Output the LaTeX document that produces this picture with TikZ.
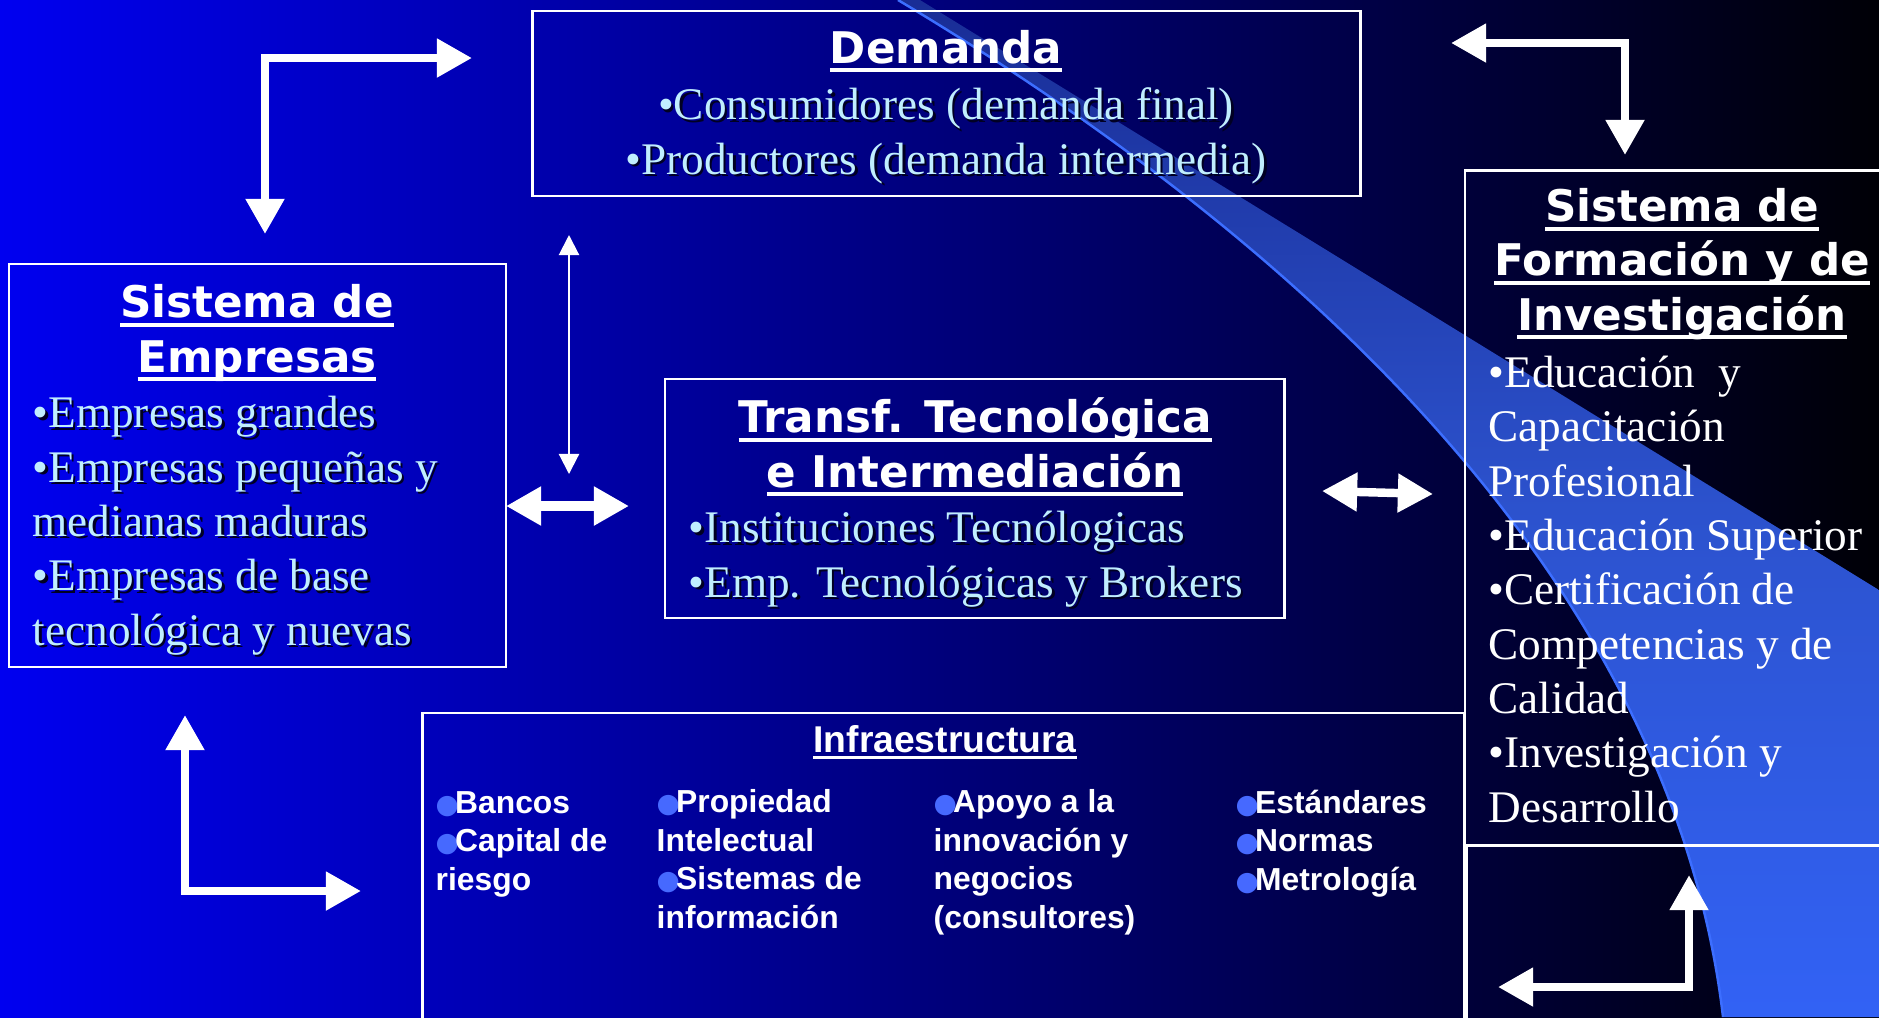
\documentclass[tikz,border=0pt]{standalone}
\usepackage{fontspec}
\setmainfont{Liberation Serif}
\newfontfamily\ttlfont{DejaVu Sans}
\newfontfamily\infrafont{Liberation Sans}
\usetikzlibrary{arrows.meta}
\definecolor{bgleft}{RGB}{0,0,240}
\definecolor{bgmid}{RGB}{0,0,172}
\definecolor{bgright}{RGB}{0,0,6}
\definecolor{swa}{RGB}{25,45,150}
\definecolor{swm}{RGB}{44,82,205}
\definecolor{swb}{RGB}{50,98,245}
\definecolor{rim}{RGB}{60,110,255}
\definecolor{lcyan}{RGB}{192,238,255}
\definecolor{shdw}{RGB}{0,0,35}
\definecolor{bulblue}{RGB}{70,105,255}
% shadowed line, underlined titles, blue bullet
\newcommand{\shw}[1]{\leavevmode\rlap{\kern0.7pt\raisebox{-0.7pt}{\textcolor{shdw}{#1}}}#1}
\newcommand{\ulin}[1]{\setbox0=\hbox{#1}\rlap{\rule[-2.6pt]{\wd0}{1.1pt}}\box0}
\newcommand{\ulinf}[1]{\setbox0=\hbox{#1}\rlap{\rule[-1.9pt]{\wd0}{0.8pt}}\box0}
\newcommand{\ib}{{\color{bulblue}\ttlfont\mdseries\fontsize{7.6}{9}\selectfont ●}\kern-1.1pt}
\begin{document}
\begin{tikzpicture}[x=0.01cm, y=-0.01cm,
    box/.style={draw=white, line width=0.75pt, inner sep=0pt},
    ttl/.style={text=white, align=center, inner sep=0pt, anchor=base,
      font=\ttlfont\bfseries\fontsize{12.4}{15.4}\selectfont},
    txt/.style={text=lcyan, align=left, inner sep=0pt, anchor=base west,
      font=\fontsize{12.86}{15.45}\selectfont},
    infttl/.style={text=white, inner sep=0pt, anchor=base,
      font=\infrafont\bfseries\fontsize{10.6}{12.7}\selectfont},
    inftxt/.style={text=white, align=left, inner sep=0pt, anchor=base west,
      font=\infrafont\bfseries\fontsize{9.05}{10.95}\selectfont},
    fatarr/.style={white, line width=2.4pt,
      {Triangle[width=10.5pt,length=10pt]}-{Triangle[width=10.5pt,length=10pt]}},
    thinarr/.style={white, line width=0.6pt,
      {Triangle[width=5.7pt,length=5.7pt]}-{Triangle[width=5.7pt,length=5.7pt]}}]
  \useasboundingbox (0,0) rectangle (1879,1017);
  \clip (0,0) rectangle (1879,1017);
  % background and swoosh
  \shade[left color=bgleft, middle color=bgmid, right color=bgright] (0,0) rectangle (1879,1017);
  \shade[top color=swa, bottom color=swb, middle color=swm]
    (898,0) .. controls (1400,300) and (1680,650) .. (1723,1017)
    -- (1879,1017) -- (1879,590) -- (920,0) -- cycle;
  \draw[rim, line width=0.7pt] (898,0) .. controls (1400,300) and (1680,650) .. (1723,1017);

  % boxes
  \node[box, minimum width=8.27cm, minimum height=1.85cm] (dem) at (946.5,103.5) {};
  \node[box, minimum width=4.97cm, minimum height=4.03cm] (emp) at (257.5,465.5) {};
  \node[box, minimum width=6.19cm, minimum height=2.39cm] (tra) at (974.5,498.5) {};
  \node[box, minimum width=4.35cm, minimum height=6.74cm] (frm) at (1682.5,508) {};
  \node[box, minimum width=10.41cm, minimum height=3.27cm] (inf) at (943.5,876.5) {};
  \node[box, minimum width=4.33cm, minimum height=1.95cm] (bot) at (1683.5,942.5) {};

  % texts (base = last line)
  \node[ttl] (demT) at (946,63) {\ulin{Demanda}};
  \node[txt, align=center, anchor=base] (demB) at (946,174)
    {\shw{•Consumidores (demanda final)}\\ \shw{•Productores (demanda intermedia)}};
  \node[ttl] (empT) at (257,372) {\ulin{Sistema de}\\ \ulin{Empresas}};
  \node[txt] (empB) at (32,645) {\shw{•Empresas grandes}\\ \shw{•Empresas pequeñas y}\\
    \shw{medianas maduras}\\ \shw{•Empresas de base}\\ \shw{tecnológica y nuevas}};
  \node[ttl] (traT) at (975,487) {\ulin{Transf. Tecnológica}\\ \ulin{e Intermediación}};
  \node[txt] (traB) at (688,597) {\shw{•Instituciones Tecnólogicas}\\ \shw{•Emp. Tecnológicas y Brokers}};
  \node[ttl] (frmT) at (1682,330) {\ulin{Sistema de}\\ \ulin{Formación y de}\\ \ulin{Investigación}};
  \node[txt, text=white] (frmB) at (1488,822) {•Educación\ \ y\\ Capacitación\\ Profesional\\
    •Educación Superior\\ •Certificación de\\ Competencias y de\\ Calidad\\
    •Investigación y\\ Desarrollo};
  \node[infttl] (infT) at (945,752) {\ulinf{Infraestructura}};
  \foreach \n/\cx/\cy/\txt in {1/435/890/{\ib Bancos\\ \ib Capital de\\ riesgo},
      2/656/928/{\ib Propiedad\\ Intelectual\\ \ib Sistemas de\\ información},
      3/933/928/{\ib Apoyo a la\\ innovación y\\ negocios\\ (consultores)},
      4/1235/890/{\ib Estándares\\ \ib Normas\\ \ib Metrología}}
    \node[inftxt] (infC\n) at (\cx,\cy) {\txt};

  % arrows
  \coordinate (a1) at (265,234);   \coordinate (a2) at (472,58);
  \coordinate (b1) at (569,235);   \coordinate (b2) at (569,474);
  \coordinate (c1) at (506,506);   \coordinate (c2) at (629,506);
  \coordinate (d1) at (1322,491);  \coordinate (d2) at (1433,494);
  \coordinate (e1) at (1451,43);   \coordinate (e2) at (1625,155);
  \coordinate (f1) at (185,715);   \coordinate (f2) at (361,891);
  \coordinate (g1) at (1689,875);  \coordinate (g2) at (1498,987);
  \draw[fatarr] (a1) |- (a2);
  \draw[thinarr] (b1) -- (b2);
  \draw[fatarr, line width=2.8pt] (c1) -- (c2);
  \draw[fatarr] (d1) -- (d2);
  \draw[fatarr] (e1) -| (e2);
  \draw[fatarr] (f1) |- (f2);
  \draw[fatarr] (g1) |- (g2);
\end{tikzpicture}
\end{document}
